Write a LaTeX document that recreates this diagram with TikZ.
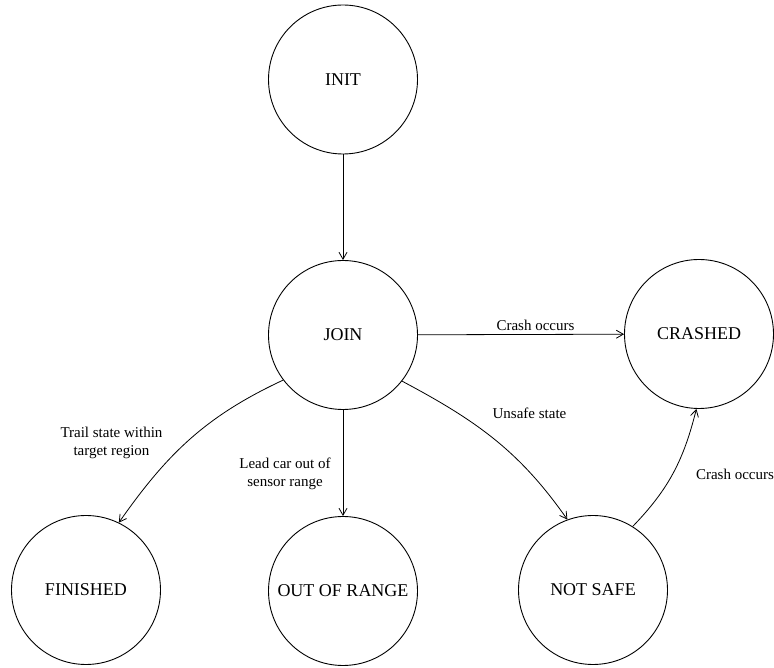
\documentclass[tikz,border=0pt]{standalone}
\usepackage{fontspec}
\setmainfont{Liberation Serif}
\usetikzlibrary{arrows.meta}
\begin{document}
\begin{tikzpicture}[x=1pt,y=1pt,
  state/.style={draw,circle,line width=0.9pt,minimum size=149pt,inner sep=0pt,
    font=\fontsize{18}{21.6}\selectfont},
  lbl/.style={font=\fontsize{15}{18}\selectfont,align=center,inner sep=0pt},
  edge/.style={line width=0.8pt,-{Straight Barb[length=7pt,width=8pt,line width=0.8pt]}}]
\useasboundingbox (0,0) rectangle (774,667);
\node[state] (init) at (343,587.5) {INIT};
\node[state] (join) at (343,332) {JOIN};
\node[state] (crashed) at (699,333) {CRASHED};
\node[state] (finished) at (86,77) {FINISHED};
\node[state] (out) at (343,76) {OUT OF RANGE};
\node[state] (notsafe) at (593,77) {NOT SAFE};

\draw[edge] (init) -- (join);
\draw[edge] (join) -- (crashed);
\draw[edge] (join) -- (out);
\draw[edge] (join.217) to[out=205,in=55] (finished.64);
\draw[edge] (join.322) to[out=-28,in=125] (notsafe.110);
\draw[edge] (notsafe.58) to[out=46,in=256] (crashed.268);

\node[lbl] (l1) at (535.5,342) {Crash occurs};
\node[lbl] (l2) at (111.5,224) {Trail state within\\target region};
\node[lbl] (l3) at (285,193) {Lead car out of\\sensor range};
\node[lbl] (l4) at (529.5,254) {Unsafe state};
\node[lbl] (l5) at (735,193) {Crash occurs};
\end{tikzpicture}
\end{document}
